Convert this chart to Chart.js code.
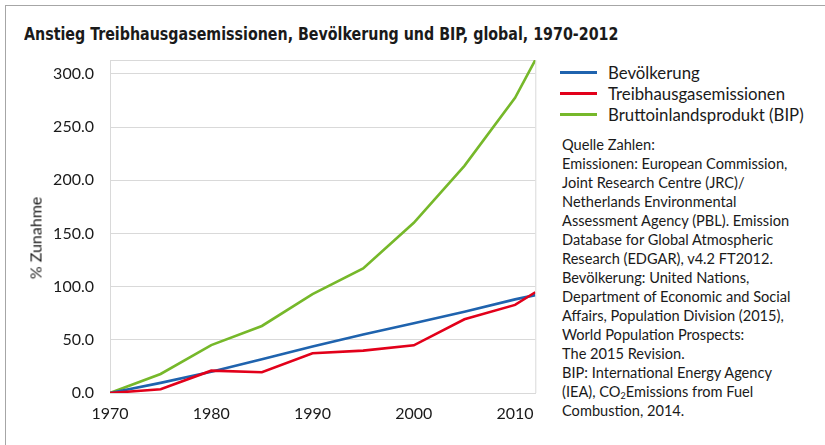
<!DOCTYPE html>
<html>
<head>
<meta charset="utf-8">
<script src="https://cdn.jsdelivr.net/npm/chart.js"></script>
<style>
  body { margin: 0; width: 825px; height: 445px; overflow: hidden; background: #fff; position: relative; font-family: Lato, "Noto Sans", sans-serif; color: #1a1a1a; }
  #frame { position: absolute; left: 5px; top: 5px; right: -2px; bottom: -2px; border-left: 1px solid #a6a6a6; border-top: 1px solid #a6a6a6; }
  #title { position: absolute; left: 24px; top: 23px; font: bold 18px "Liberation Sans Narrow", "DejaVu Sans Condensed", sans-serif; white-space: nowrap; transform: scaleX(0.88); transform-origin: 0 0; }
  #ytitle { position: absolute; left: 35px; top: 238px; font-size: 16px; font-weight: 400; white-space: nowrap; transform: translate(-50%, -50%) rotate(-90deg); }
  #wrap { position: absolute; left: 0; top: 0; width: 545px; height: 445px; }
  #legend { position: absolute; left: 560px; top: 62px; }
  .row { height: 21px; display: flex; align-items: center; font-size: 16.8px; white-space: nowrap; }
  .sw { width: 37px; height: 3px; margin-right: 11px; }
  #source { position: absolute; left: 562px; top: 135px; font-size: 14.6px; line-height: 19px; white-space: nowrap; }
  #source sub { font-size: 9px; line-height: 0; vertical-align: -2px; }
</style>
</head>
<body>
<div id="frame"></div>
<div id="title">Anstieg Treibhausgasemissionen, Bevölkerung und BIP, global, 1970-2012</div>
<div id="wrap"><canvas id="c" width="545" height="445"></canvas></div>
<div id="ytitle">% Zunahme</div>
<div id="legend"></div>
<div id="source">Quelle Zahlen:<br>
Emissionen: European Commission,<br>
Joint Research Centre (JRC)/<br>
Netherlands Environmental<br>
Assessment Agency (PBL). Emission<br>
Database for Global Atmospheric<br>
Research (EDGAR), v4.2 FT2012.<br>
Bevölkerung: United Nations,<br>
Department of Economic and Social<br>
Affairs, Population Division (2015),<br>
World Population Prospects:<br>
The 2015 Revision.<br>
BIP: International Energy Agency<br>
(IEA), CO<sub>2</sub>Emissions from Fuel<br>
Combustion, 2014.</div>
<script>
const years = [1970, 1975, 1980, 1985, 1990, 1995, 2000, 2005, 2010, 2012];
const bevoelkerung = [0, 9.5, 20, 31.7, 43.8, 55, 65.5, 76.3, 88, 92];
const emissionen = [0, 3.5, 21, 19.5, 37.3, 39.8, 44.8, 69.3, 82.8, 94.7];
const bip = [0, 17.9, 45, 63, 93, 117, 160, 213.5, 277.5, 313];
const seriesNames = ['Bevölkerung', 'Treibhausgasemissionen', 'Bruttoinlandsprodukt (BIP)'];
const seriesColors = ['#1f63ae', '#e2001a', '#76b82a'];
const yTicks = [0, 50, 100, 150, 200, 250, 300];
const xTicks = [1970, 1980, 1990, 2000, 2010];
const yMax = 313;

const toPoints = vals => vals.map((v, i) => ({ x: years[i], y: v }));
const seriesData = [bevoelkerung, emissionen, bip];
const drawOrder = [1, 0, 2];

// Legende
const legend = document.getElementById('legend');
seriesNames.forEach((name, i) => {
  const row = document.createElement('div');
  row.className = 'row';
  row.innerHTML = '<span class="sw" style="background:' + seriesColors[i] + '"></span>' + name;
  legend.appendChild(row);
});

// rechter Rahmen der Zeichenfläche
const rightBorder = {
  id: 'rightBorder',
  beforeDatasetsDraw(chart) {
    const { ctx, chartArea: a } = chart;
    ctx.save();
    ctx.strokeStyle = '#d9d9d9';
    ctx.lineWidth = 1;
    ctx.beginPath();
    ctx.moveTo(a.right + 0.5, a.top);
    ctx.lineTo(a.right + 0.5, a.bottom);
    ctx.stroke();
    ctx.restore();
  }
};

new Chart(document.getElementById('c'), {
  type: 'line',
  data: {
    datasets: seriesNames.map((name, i) => ({
      label: name,
      data: toPoints(seriesData[i]),
      borderColor: seriesColors[i],
      borderWidth: 2.6,
      pointRadius: 0,
      tension: 0,
      order: drawOrder[i]
    }))
  },
  options: {
    responsive: false,
    devicePixelRatio: 1,
    animation: false,
    layout: { padding: { top: 60, right: 8, bottom: 0, left: 0 } },
    plugins: { legend: { display: false }, tooltip: { enabled: false } },
    scales: {
      x: {
        type: 'linear',
        min: 1970,
        max: 2012,
        afterFit(s) { s.height = 52; },
        afterBuildTicks(s) { s.ticks = xTicks.map(v => ({ value: v })); },
        grid: { display: false, drawTicks: false },
        border: { color: '#d9d9d9' },
        ticks: { padding: 11, color: '#1a1a1a', font: { family: 'Lato', size: 16 }, maxRotation: 0, callback: v => String(v) }
      },
      y: {
        min: 0,
        max: yMax,
        afterFit(s) { s.width = 110; },
        afterBuildTicks(s) { s.ticks = yTicks.concat([yMax]).map(v => ({ value: v })); },
        grid: { color: '#d9d9d9', drawTicks: false },
        border: { color: '#d9d9d9' },
        ticks: { padding: 16, color: '#1a1a1a', font: { family: 'Lato', size: 16 }, callback: v => (yTicks.includes(v) ? v.toFixed(1) : '') }
      }
    }
  },
  plugins: [rightBorder]
});
</script>
</body>
</html>
